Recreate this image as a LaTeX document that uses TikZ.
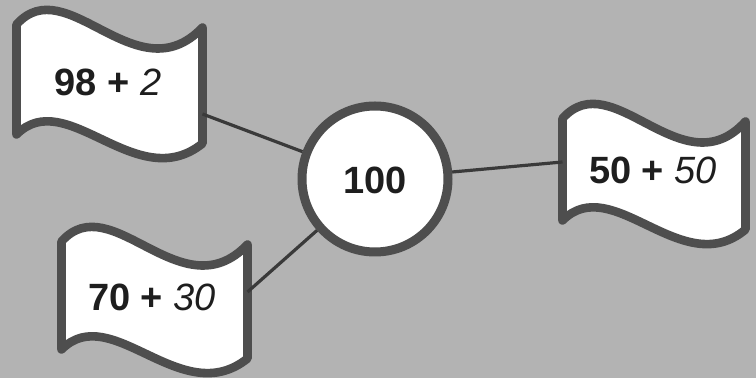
\documentclass[tikz,border=0pt]{standalone}
\usepackage{fontspec}
\setmainfont{Liberation Sans}
\definecolor{bg}{HTML}{B3B3B3}
\definecolor{ring}{HTML}{4E4E4E}
\definecolor{wire}{HTML}{3A3A3A}
\definecolor{ink}{HTML}{1E1E1E}
\newcommand\flagshape[4]{%
  \draw[flagline, shift={(#1,#2)}]
    (0,0) .. controls (50,-56) and (120,72) .. (#3,3)
    -- (#3,#4+9)
    .. controls (120,#4+62) and (50,#4-50) .. (0,#4)
    -- cycle;}
\begin{document}
\begin{tikzpicture}[x=0.5pt,y=-0.5pt,
  flagline/.style={draw=ring, fill=white, line width=4.3pt, line join=round},
  ringnode/.style={circle, draw=ring, fill=white, line width=4.5pt, minimum size=73pt, inner sep=0pt},
  conn/.style={draw=wire, line width=1.6pt},
  lbl/.style={text=ink, font=\fontsize{19}{23}\selectfont, inner sep=0pt}]
\fill[bg] (0,0) rectangle (756,378);
\useasboundingbox (0,0) rectangle (756,378);
% flags
\flagshape{16.5}{24.5}{186}{110}
\flagshape{61.5}{241.5}{186}{108}
\flagshape{562.5}{118.5}{183}{102}
% circle
\node[ringnode] (c) at (375,179) {};
% connector ends on flags
\coordinate (f1r) at (202.5,114);
\coordinate (f2r) at (247.5,292);
\coordinate (f3l) at (562.5,162);
\draw[conn] (f1r) -- (c);
\draw[conn] (f2r) -- (c);
\draw[conn] (c) -- (f3l);
% labels
\node[lbl] (t0) at (375,180) {\textbf{100}};
\node[lbl] (t1) at (108,82) {\textbf{98 +} \textit{2}};
\node[lbl] (t2) at (152,297) {\textbf{70 +} \textit{30}};
\node[lbl] (t3) at (653,170) {\textbf{50 +} \textit{50}};
\end{tikzpicture}
\end{document}
